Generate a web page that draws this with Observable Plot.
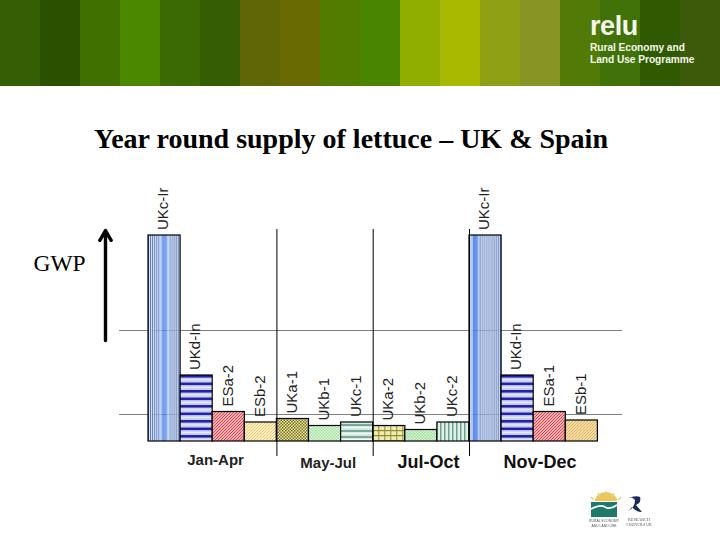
<!DOCTYPE html>
<html><head><meta charset="utf-8">
<script src="https://cdn.jsdelivr.net/npm/d3@7"></script>
<script src="https://cdn.jsdelivr.net/npm/@observablehq/plot@0.6"></script>
<style>
html,body{margin:0;padding:0;background:#fff;width:720px;height:540px;overflow:hidden;position:relative}
#banner{position:absolute;left:0;top:0;width:720px;height:87px;display:flex;border-bottom:0}
#banner div{flex:1 1 0;height:86px}
#relu{position:absolute;left:590px;top:11px;color:#f4f7ea;font-family:"Liberation Sans",sans-serif}
#relu b{display:block;font-size:27px;line-height:31px;font-weight:700;letter-spacing:-.4px}
#relu span{display:block;font-size:10.2px;line-height:12px;font-weight:700;letter-spacing:-.05px;white-space:nowrap}
#title{position:absolute;left:0;width:702px;text-align:center;top:123px;font:bold 28px "Liberation Serif",serif;line-height:32px;color:#000;white-space:nowrap}
#chart{position:absolute;left:0;top:175px}
#logos{position:absolute;left:585px;top:488px;filter:blur(.5px)}
</style></head><body>
<svg width="0" height="0" style="position:absolute"><defs id="defs"></defs></svg>
<div id="banner"></div>
<div id="relu"><b>relu</b><span>Rural Economy and</span><span>Land Use Programme</span></div>
<div id="title">Year round supply of lettuce – UK &amp; Spain</div>
<div id="chart"></div>
<svg id="logos" width="70" height="44" viewBox="0 0 70 44">
<path d="M10 13a11 9 0 0 1 22 0z" fill="#e9c75a"/>
<path d="M6 9l3 3M13 5l2 4M21 3v5M29 5l-2 4M36 9l-3 3" stroke="#edd27a" stroke-width="1.5"/>
<rect x="6" y="14" width="26" height="15" fill="#1d7a68"/>
<path d="M6 21q10-5 14-2t12-2" stroke="#fff" stroke-width="1.6" fill="none"/>
<text x="19" y="34" text-anchor="middle" font-size="3.4" fill="#555" font-family="Liberation Sans">RURAL ECONOMY</text>
<text x="19" y="39" text-anchor="middle" font-size="3.4" fill="#555" font-family="Liberation Sans">AND LAND USE</text>
<path d="M42 24q8-4 8-12q-3-4-7-2q8-3 12-1q2 5-4 8l6 7q-6 0-10-5q-2 3-5 5z" fill="#1c2a5c"/>
<text x="54" y="33" text-anchor="middle" font-size="4.2" fill="#555" font-family="Liberation Serif">RESEARCH</text>
<text x="54" y="38" text-anchor="middle" font-size="3.8" fill="#555" font-family="Liberation Serif">COUNCILS UK</text>
</svg>
<script>
// data: relative global warming potential per production system, in plot order
const systems = ["UKc-Ir","UKd-In","ESa-2","ESb-2","UKa-1","UKb-1","UKc-1","UKa-2","UKb-2","UKc-2","UKc-Ir","UKd-In","ESa-1","ESb-1"];
const gwp = [206,66,29.5,19,22.5,15.5,19,15.5,11.5,19,206,66,29.5,21];
const swatches = ["irA","inA","redA","yelA","oliA","grnA","tealH","plaid","grnB","tealV","irB","inA","redA","yelB"];
const gridValues = [27,111];
const separators = [4,7,10];
const seasons = ["Jan-Apr","May-Jul","Jul-Oct","Nov-Dec"];
const seasonCentre = [2.09,5.6,8.72,12.2];
const seasonDepth = [-19,-22,-21,-21];
const bannerColours = ["#345f04","#2b5000","#3f7000","#4b8800","#3b6a04","#355e04","#5e6606","#6a6a02","#527c00","#4a8500","#8fae00","#a8b900","#8fa014","#889524","#517a06","#41720a","#2f5a02","#3d5a0a"];

d3.select("#banner").selectAll("div").data(bannerColours).join("div").style("background",d=>d);

// hatch patterns
const vstripes = (cols)=>cols.map((c,i)=>`<rect x="${i}" y="0" width="1.01" height="240" fill="${c}"/>`).join("");
const fine = n=>Array.from({length:n},(_,i)=>i%2?"#e4ecfa":"#4468b0");
const irA = [...fine(11),"#a9c6f5","#a9c6f5","#a9c6f5","#4f80e6","#4f80e6","#4f80e6","#4f80e6","#4f80e6","#a9c6f5","#a9c6f5","#bcd3f7",...fine(10)];
const irB = ["#bcd3f7","#bcd3f7","#a9c6f5","#a9c6f5","#4f80e6","#4f80e6","#4f80e6","#4f80e6","#4f80e6","#a9c6f5","#a9c6f5",...fine(21)];
const hbands=(id,h,period,rows)=>{let s="";for(let y=0;y<h;y+=period)for(const [o,t,c] of rows)s+=`<rect x="0" y="${y+o}" width="40" height="${t}" fill="${c}"/>`;return `<pattern id="${id}" patternUnits="objectBoundingBox" width="1" height="1" patternContentUnits="userSpaceOnUse">${s}</pattern>`};
const tile=(id,w,h,inner)=>`<pattern id="${id}" patternUnits="userSpaceOnUse" width="${w}" height="${h}">${inner}</pattern>`;
const diag=(id,bg,fg,w)=>tile(id,3,3,`<rect width="3" height="3" fill="${bg}"/><path d="M-1 1L1 -1M0 3L3 0M2 4L4 2" stroke="${fg}" stroke-width="${w}"/>`);
document.getElementById("defs").innerHTML = [
 `<pattern id="irA" patternUnits="objectBoundingBox" width="1" height="1" patternContentUnits="userSpaceOnUse">${vstripes(irA)}</pattern>`,
 `<pattern id="irB" patternUnits="objectBoundingBox" width="1" height="1" patternContentUnits="userSpaceOnUse">${vstripes(irB)}</pattern>`,
 hbands("inA",70,7.5,[[0,7.6,"#c8cef4"],[0,2.6,"#2222aa"],[4.4,1,"#eef0fc"]]),
 diag("redA","#fbdcdc","#d84850",1.2),
 diag("yelA","#fff2c8","#ecc468",1),
 diag("yelB","#fff2c8","#dcae58",1.1),
 tile("oliA",3,3,`<rect width="3" height="3" fill="#eee898"/><rect width="1.5" height="1.5" fill="#75712a"/><rect x="1.5" y="1.5" width="1.5" height="1.5" fill="#75712a"/>`),
 tile("grnA",3,3,`<rect width="3" height="3" fill="#dff8d8"/><rect width="1.5" height="1.5" fill="#a8e0a4"/><rect x="1.5" y="1.5" width="1.5" height="1.5" fill="#a8e0a4"/>`),
 tile("grnB",3,3,`<rect width="3" height="3" fill="#dff8d8"/><rect width="1.5" height="1.5" fill="#9cdc9c"/><rect x="1.5" y="1.5" width="1.5" height="1.5" fill="#9cdc9c"/>`),
 hbands("tealH",24,6,[[0,6.1,"#d4e8e2"],[2,2,"#7aa898"],[5,1,"#f4faf8"]]),
 tile("tealV",4,4,`<rect width="4" height="4" fill="#e0f2ea"/><rect width="1.5" height="4" fill="#6f9f90"/>`),
 tile("plaid",6,5,`<rect width="6" height="5" fill="#f0ecb0"/><rect width="1.4" height="5" fill="#a8a850"/><rect width="6" height="1.2" fill="#8c8c3c"/>`)
].join("");

const bars = systems.map((s,i)=>({i,system:s,gwp:gwp[i],swatch:`url(#${swatches[i]})`}));
const seasonRows = seasons.map((s,i)=>({season:s,x:seasonCentre[i],y:seasonDepth[i]}));
const big = seasonRows.filter(d=>d.season==="Jul-Oct"||d.season==="Nov-Dec");
const small = seasonRows.filter(d=>!big.includes(d));

const plot = Plot.plot({
  width:720,height:305,margin:0,
  x:{type:"linear",domain:[-148/32.1,(720-148)/32.1],range:[0,720],axis:null},
  y:{type:"linear",domain:[-39,266],range:[305,0],axis:null},
  marks:[
    Plot.ruleY(gridValues,{x1:-0.9,x2:14.77,stroke:"#808080",strokeWidth:1}),
    Plot.rectY(bars,{x1:"i",x2:d=>d.i+1,y1:0,y2:"gwp",fill:{value:"swatch",scale:null},stroke:"#000",strokeWidth:1.2}),
    Plot.ruleX(separators,{y1:-15,y2:212,stroke:"#000",strokeWidth:1}),
    Plot.text(bars,{x:d=>d.i+.5-0.03,y:"gwp",text:"system",rotate:-90,textAnchor:"start",dy:-5.5,fontSize:15,fontFamily:"Liberation Sans",fill:"#222"}),
    Plot.text(small,{x:"x",y:"y",text:"season",fontSize:15,fontWeight:"bold",fontFamily:"Liberation Sans",fill:"#222",style:{letterSpacing:".5px"}}),
    Plot.text(big,{x:"x",y:"y",text:"season",fontSize:18,fontWeight:"bold",fontFamily:"Liberation Sans",fill:"#111"}),
    Plot.arrow([{x:-1.34,y1:101,y2:211}],{x1:"x",x2:"x",y1:"y1",y2:"y2",stroke:"#000",strokeWidth:3.4,headLength:5,bend:0}),
    Plot.text(["GWP"],{x:-2.77,y:178,text:d=>d,fontSize:23.5,fontFamily:"Liberation Serif",fill:"#000"})
  ]
});
document.getElementById("chart").append(plot);
</script></body></html>
